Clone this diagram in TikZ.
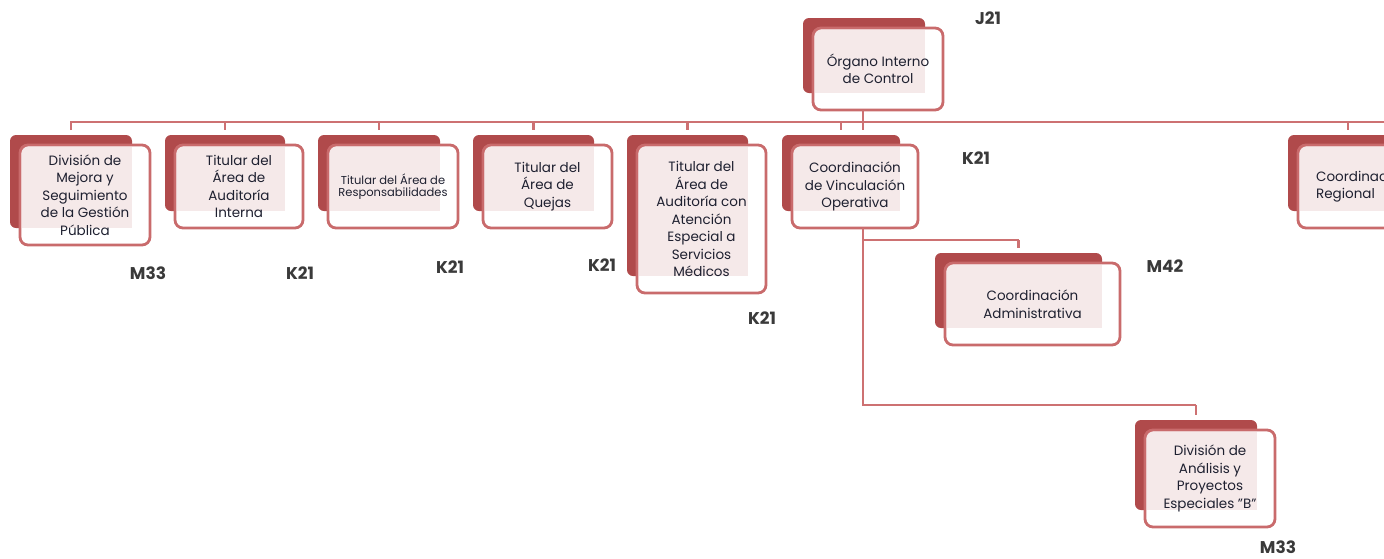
\documentclass[tikz,border=0pt]{standalone}
\usepackage{fontspec}
\setmainfont{Poppins}
\definecolor{backc}{HTML}{B04A4B}
\definecolor{framec}{HTML}{C96B6C}
\definecolor{pinkc}{HTML}{F5E9E9}
\definecolor{connc}{HTML}{CD7172}
\definecolor{txtc}{HTML}{1E2030}
\definecolor{lblc}{HTML}{3A3A3A}
\tikzset{
  backbox/.style={fill=backc, rounded corners=6pt, inner sep=0pt, outer sep=0pt},
  frontbox/.style={draw=framec, line width=2.8pt, rounded corners=8pt, inner sep=0pt, outer sep=0pt, align=center, text=txtc},
  conn/.style={draw=connc, line width=2.8pt},
  lbl/.style={font=\fontsize{17}{19}\selectfont\bfseries, text=lblc, inner sep=0pt},
}
\newcommand{\bodyfont}{\fontsize{13.5}{17.5}\selectfont}
\newcommand{\smallbody}{\fontsize{11.5}{12.5}\selectfont}
\newcommand{\obox}[7]{%
  \node[backbox, minimum width={#4}, minimum height={#5}] (b#1) at ({#2+#4/2},{#3+#5/2}) {};
  \fill[white, rounded corners=8pt] ({#2+10},{#3+10}) rectangle ++({#4+8},{#5+7});
  \fill[pinkc] ({#2+11.5},{#3+11.5}) rectangle ({#2+#4},{#3+#5});
  \node[frontbox, font=#6, minimum width={#4+8}, minimum height={#5+7}] (#1) at ({#2+14+#4/2},{#3+13.5+#5/2}) {#7};
}
\begin{document}
\begin{tikzpicture}[x=1pt,y=-1pt]
\useasboundingbox (0,0) rectangle (1384,558);
\clip (0,0) rectangle (1384,558);
% connectors
\coordinate (busL) at (68,122);
\coordinate (busR) at (1400,122);
\coordinate (v) at (863,122);
\coordinate (j1) at (863,240);
\coordinate (j2) at (863,405);
% boxes
\obox{top}{803}{18}{122}{75}{\bodyfont}{Órgano Interno\\de Control}
\obox{d1}{10}{135}{122}{93}{\bodyfont}{División de\\Mejora y\\Seguimiento\\de la Gestión\\Pública}
\obox{d2}{165}{135}{120}{76}{\bodyfont}{Titular del\\Área de\\Auditoría\\Interna}
\obox{d3}{318}{135}{122}{76}{\smallbody}{Titular del Área de\\Responsabilidades}
\obox{d4}{473}{135}{121}{76}{\bodyfont}{Titular del\\Área de\\Quejas}
\obox{d5}{627}{135}{121}{141}{\bodyfont}{Titular del\\Área de\\Auditoría con\\Atención\\Especial a\\Servicios\\Médicos}
\obox{d6}{782}{135}{118}{76}{\bodyfont}{Coordinación\\de Vinculación\\Operativa}
\obox{d7}{1288}{135}{120}{76}{\bodyfont}{\begin{tabular}{@{}l@{}}Coordinación\\Regional\end{tabular}}
\obox{adm}{935}{253}{167}{75}{\bodyfont}{Coordinación\\Administrativa}
\obox{dape}{1135}{420}{122}{90}{\bodyfont}{División de\\Análisis y\\Proyectos\\Especiales \symbol{34}B\symbol{34}}
% lines
\draw[conn, shorten <=5pt] (bd1.north) -- (bd1.north |- busL) -- (busR);
\foreach \n in {d2,d3,d4,d5,d6,d7}{
  \draw[conn, shorten >=5pt] (b\n.north |- busL) -- (b\n.north);
}
\draw[conn] (top.south -| v) -- (v);
\draw[conn, shorten >=5pt] (v) -- (v |- bd6.north);
\draw[conn] (v |- d6.south) -- (j2) -- (j2 -| bdape.north);
\draw[conn, shorten >=5pt] (j2 -| bdape.north) -- (bdape.north);
\draw[conn] (j1) -- (j1 -| badm.north);
\draw[conn, shorten >=5pt] (j1 -| badm.north) -- (badm.north);
% labels
\node[lbl] (l0) at (988,18) {J21};
\node[lbl] (l1) at (148,273) {M33};
\node[lbl] (l2) at (300,273) {K21};
\node[lbl] (l3) at (450,267) {K21};
\node[lbl] (l4) at (602,265) {K21};
\node[lbl] (l5) at (976,158) {K21};
\node[lbl] (l6) at (1165,266) {M42};
\node[lbl] (l7) at (762,318) {K21};
\node[lbl] (l8) at (1278,547) {M33};
\end{tikzpicture}
\end{document}
